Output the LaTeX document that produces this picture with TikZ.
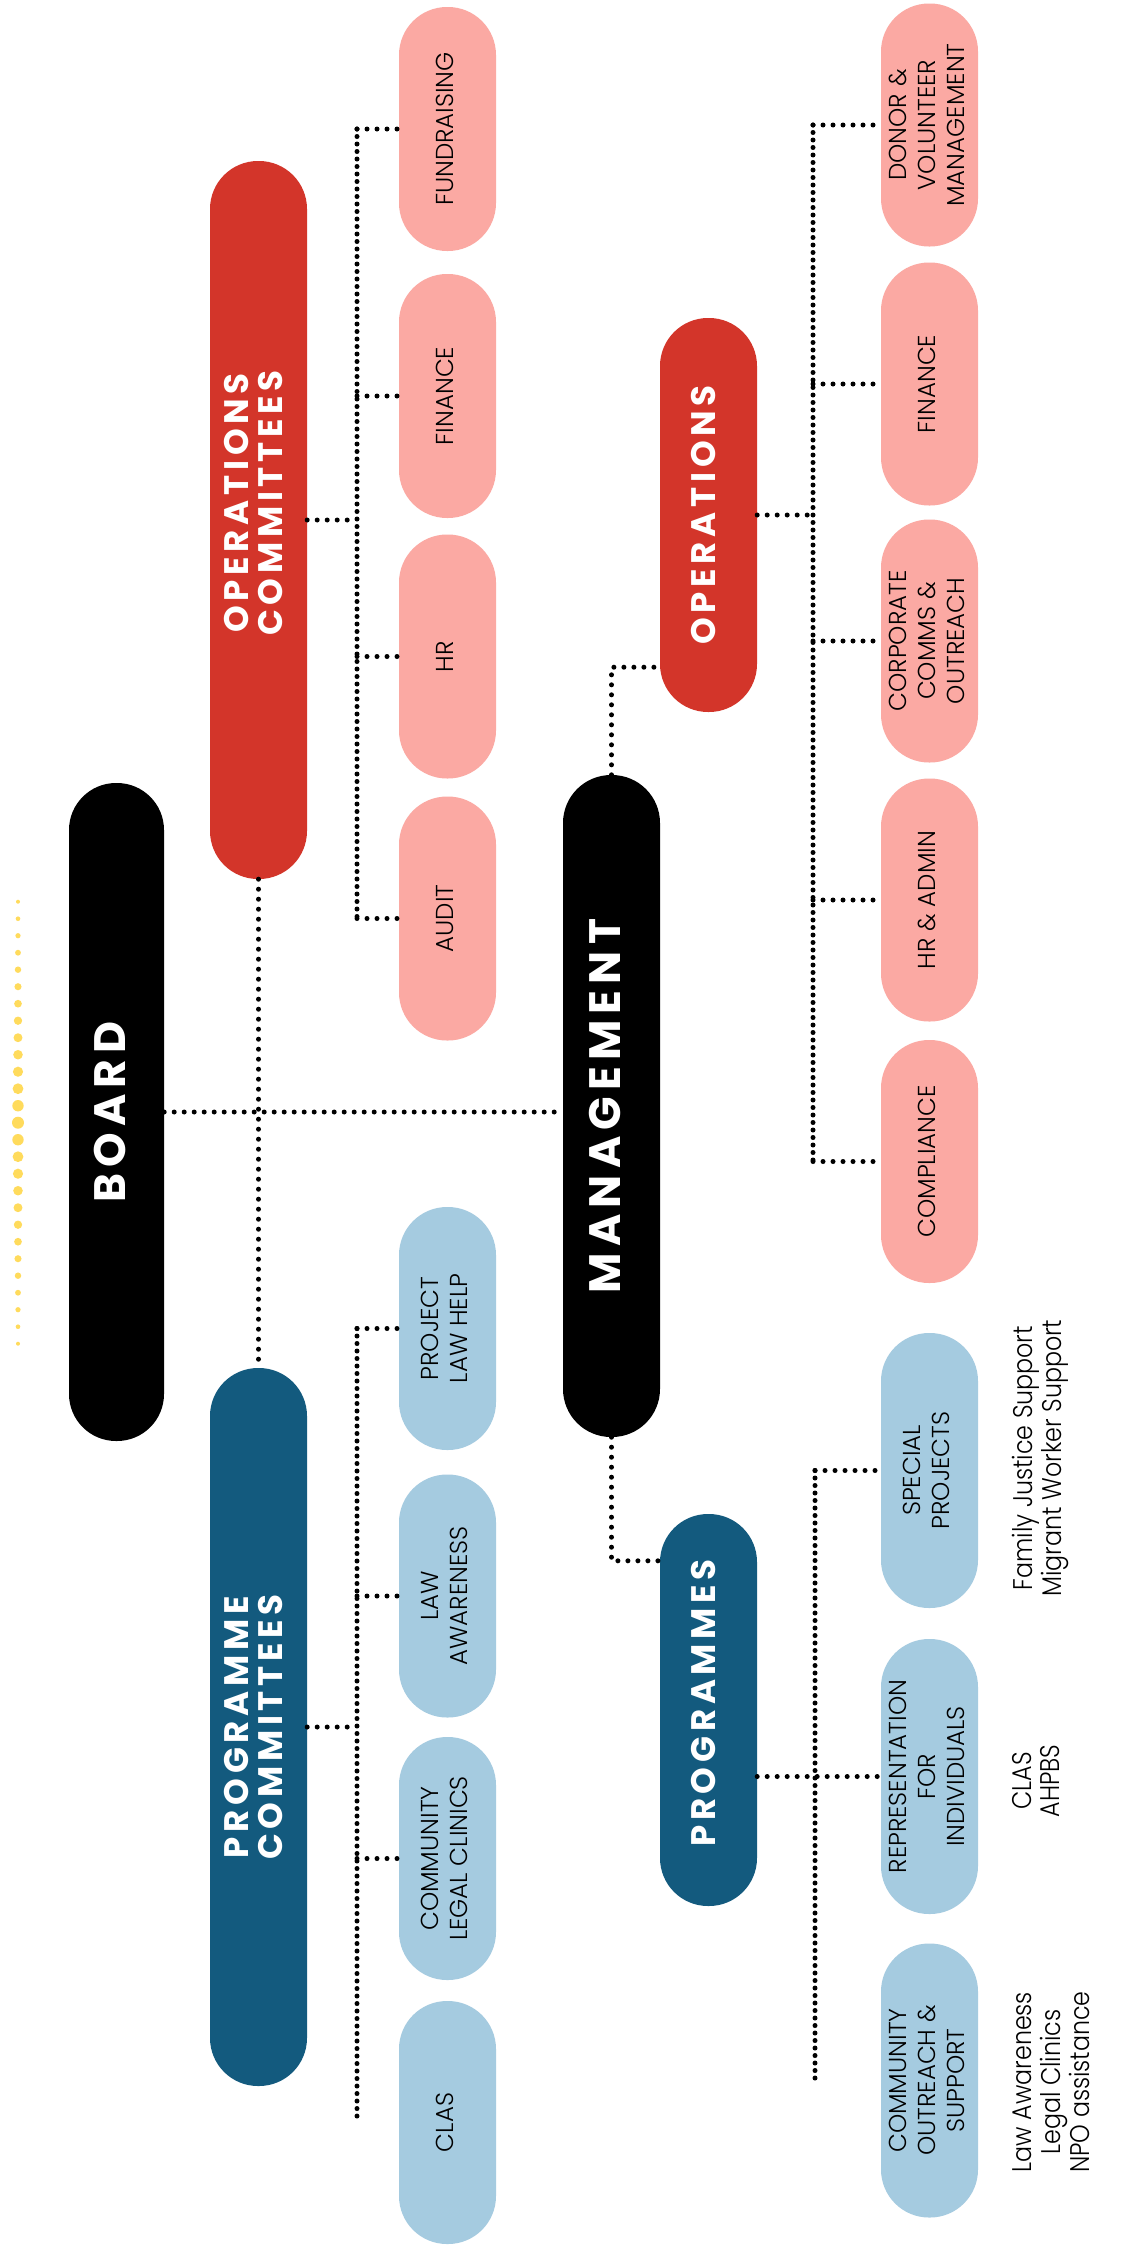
\documentclass[tikz,border=0pt]{standalone}
\usepackage{fontspec}
\usepackage{graphicx}
\setmainfont{Poppins}
\newfontfamily\headfont[LetterSpace=14]{Poppins}
\newfontfamily\boxfont{Poppins Light}
\newfontfamily\sidefont[FakeStretch=0.88]{Poppins Light}
\newcommand\rt[1]{\rotatebox{90}{\begin{tabular}{@{}c@{}}#1\end{tabular}}}
\newcommand\rtoff[2]{\rotatebox{90}{\kern#1\begin{tabular}{@{}c@{}}#2\end{tabular}}}
\definecolor{cred}{HTML}{D3352A}
\definecolor{cpink}{HTML}{FBA9A3}
\definecolor{cnavy}{HTML}{135A7E}
\definecolor{clight}{HTML}{A5CBE0}
\definecolor{cyel}{HTML}{FFDB5C}
\tikzset{
  pill/.style={rectangle, rounded corners=48pt, inner sep=0pt, minimum width=97pt},
  head/.style={pill, text=white, font=\headfont\bfseries\fontsize{34}{33}\selectfont},
  bighead/.style={pill, fill=black, text=white, font=\headfont\bfseries\fontsize{44}{44}\selectfont},
  subbox/.style={pill, minimum height=243pt, text=black, font=\boxfont\fontsize{24.5}{29}\selectfont},
  pinkbox/.style={subbox, fill=cpink},
  bluebox/.style={subbox, fill=clight},
  side/.style={inner sep=0pt, anchor=west, text=black, font=\sidefont\fontsize{27}{28}\selectfont},
  dotl/.style={line width=5pt, line cap=round, dash pattern=on 0pt off 10pt},
  trunkl/.style={line width=5pt, line cap=round, dash pattern=on 0pt off 7.5pt}
}
\begin{document}
\begin{tikzpicture}[x=1pt, y=-1pt]
\useasboundingbox (0,0) rectangle (1139,2246);
\fill[white] (0,0) rectangle (1139,2246);
% yellow dots
\foreach \i in {0,...,26} {
  \pgfmathsetmacro\rr{2+4*(1-abs(\i-13)/13)}
  \fill[cyel] (18,901.7+17*\i) circle (\rr pt);
}
% main nodes
\node[bighead, minimum width=95pt, rounded corners=47pt, minimum height=658pt] (board) at (116.5,1112) {\rt{BOARD}};
\node[head, fill=cred, minimum height=718pt] (oc) at (258.5,520) {\rtoff{34pt}{OPERATIONS\\COMMITTEES}};
\node[head, fill=cnavy, minimum height=718pt] (pc) at (258.5,1727) {\rt{PROGRAMME\\COMMITTEES}};
\node[pinkbox, minimum height=244pt] (fund) at (447.5,129) {\rt{FUNDRAISING}};
\node[pinkbox, minimum height=244pt] (fin1) at (447.5,396) {\rt{FINANCE}};
\node[pinkbox, minimum height=244pt] (hr) at (447.5,656.5) {\rt{HR}};
\node[pinkbox, minimum height=244pt] (audit) at (447.5,918.5) {\rt{AUDIT}};
\node[bluebox] (plh) at (447.5,1328.5) {\rt{PROJECT\\LAW HELP}};
\node[bluebox] (la) at (447.5,1596) {\rt{LAW\\AWARENESS}};
\node[bluebox] (clc) at (447.5,1858.5) {\rt{COMMUNITY\\LEGAL CLINICS}};
\node[bluebox] (clas) at (447.5,2122.5) {\rt{CLAS}};
\node[bighead, minimum height=662pt] (mgmt) at (611.5,1106) {\rt{MANAGEMENT}};
\node[head, fill=cred, minimum height=394pt] (ops) at (708.5,515) {\rt{OPERATIONS}};
\node[head, fill=cnavy, minimum height=392pt] (progs) at (708.5,1710) {\rtoff{14pt}{PROGRAMMES}};
\node[pinkbox] (donor) at (929.5,125) {\rt{DONOR \&\\VOLUNTEER\\MANAGEMENT}};
\node[pinkbox] (fin2) at (929.5,384) {\rt{FINANCE}};
\node[pinkbox] (corp) at (929.5,641) {\rt{CORPORATE\\COMMS \&\\OUTREACH}};
\node[pinkbox] (hra) at (929.5,900) {\rt{HR \& ADMIN}};
\node[pinkbox] (comp) at (929.5,1161.5) {\rt{COMPLIANCE}};
\node[bluebox, minimum height=275pt] (sp) at (929.5,1470.5) {\rt{SPECIAL\\PROJECTS}};
\node[bluebox, minimum height=275pt] (rep) at (929.5,1776.5) {\rt{REPRESENTATION\\FOR\\INDIVIDUALS}};
\node[bluebox, minimum height=274pt] (cos) at (929.5,2080.5) {\rt{COMMUNITY\\OUTREACH \&\\SUPPORT}};
\node[side] (side1) at (1012,1458) {\rt{Family Justice Support\\Migrant Worker Support}};
\node[side] (side2) at (1012,1781) {\rt{CLAS\\AHPBS}};
\node[side] (side3) at (1012,2082) {\rt{Law Awareness\\Legal Clinics\\NPO assistance}};
% connectors
\draw[dotl] (board.east) -- (board.east -| mgmt.west);
\draw[dotl] (oc.south) -- (pc.north);
\coordinate (oct) at (357,0);
\draw[trunkl] (fund.west -| oct) -- (audit.west -| oct);
\foreach \n in {fund,fin1,hr,audit} \draw[dotl] (\n.west -| oct) -- (\n.west);
\draw[dotl] (oc.east) -- (oc.east -| oct);
\draw[trunkl] (plh.west -| oct) -- (clas.west -| oct);
\foreach \n in {plh,la,clc} \draw[dotl] (\n.west -| oct) -- (\n.west);
\draw[dotl] (pc.east) -- (pc.east -| oct);
\coordinate (opt) at (813,0);
\draw[trunkl] (donor.west -| opt) -- (comp.west -| opt);
\foreach \n in {donor,fin2,corp,hra,comp} \draw[dotl] (\n.west -| opt) -- (\n.west);
\draw[dotl] (ops.east) -- (ops.east -| opt);
\coordinate (prt) at (815,0);
\draw[trunkl] (sp.west -| prt) -- (cos.west -| prt);
\draw[dotl] (sp.west -| prt) -- (sp.west);
\draw[dotl] (rep.west -| progs.east) -- (rep.west);
\draw[dotl] (mgmt.north) |- ([yshift=45pt]ops.south west);
\draw[dotl] (mgmt.south) |- ([yshift=-47pt]progs.north west);
\end{tikzpicture}
\end{document}
